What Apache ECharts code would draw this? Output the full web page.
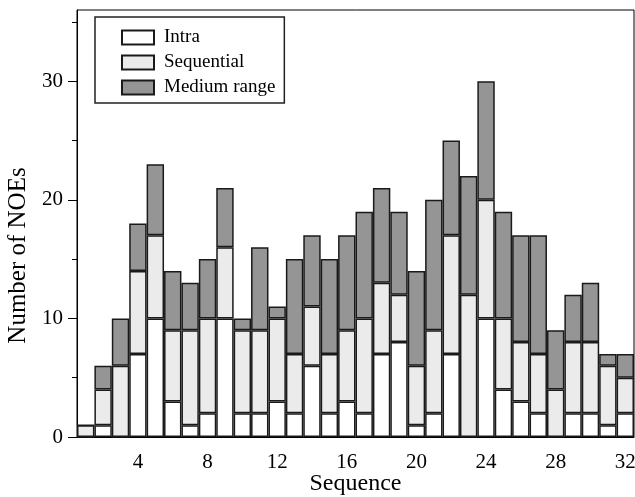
<!DOCTYPE html>
<html>
<head>
<meta charset="utf-8">
<script src="https://cdn.jsdelivr.net/npm/echarts@6/dist/echarts.min.js"></script>
<style>
html, body { margin: 0; padding: 0; background: #fff; }
#chart { width: 635px; height: 497px; }
</style>
</head>
<body>
<div id="chart"></div>
<script>
// residue numbers 1..32
const residues = ['1','2','3','4','5','6','7','8','9','10','11','12','13','14','15','16',
    '17','18','19','20','21','22','23','24','25','26','27','28','29','30','31','32'];
const intra      = [0, 1, 0, 7, 10, 3, 1, 2, 10, 2, 2, 3, 2, 6, 2, 3, 2, 7, 8, 1, 2, 7, 0, 10, 4, 3, 2, 0, 2, 2, 1, 2];
const sequential = [1, 3, 6, 7, 7, 6, 8, 8, 6, 7, 7, 7, 5, 5, 5, 6, 8, 6, 4, 5, 7, 10, 12, 10, 6, 5, 5, 4, 6, 6, 5, 3];
const medium     = [0, 2, 4, 4, 6, 5, 4, 5, 5, 1, 7, 1, 8, 6, 8, 8, 9, 8, 7, 8, 11, 8, 10, 10, 9, 9, 10, 5, 4, 5, 1, 2];
const yLabelTicks = [0, 10, 20, 30];
const yMinorTicks = [5, 15, 25, 35];

const fontFamily = '"Liberation Serif", "DejaVu Serif", serif';
const chart = echarts.init(document.getElementById('chart'));

const makeSeries = function (name, data, color) {
    return {
        name: name,
        type: 'bar',
        stack: 'noe',
        data: data,
        barCategoryGap: 0,
        itemStyle: { color: color, borderColor: '#1a1a1a', borderWidth: 1.5 },
        emphasis: { disabled: true }
    };
};
// major ticks / labels every 4 residues, minor ticks in between
const isMajor = function (idx) { return (idx + 1) % 4 === 0; };
const isMinor = function (idx) { return (idx + 1) % 4 === 2; };

const option = {
    animation: false,
    textStyle: { fontFamily: fontFamily, color: '#000' },
    grid: {
        left: 77, right: 1, top: 10, bottom: 60,
        outerBoundsMode: 'none',
        show: true, borderColor: '#000', borderWidth: 1
    },
    legend: {
        orient: 'vertical',
        left: 95, top: 17,
        icon: 'rect',
        itemWidth: 32, itemHeight: 14, itemGap: 6,
        padding: [11, 9, 6, 26],
        borderColor: '#222', borderWidth: 1.5,
        textStyle: { fontFamily: fontFamily, fontSize: 19, color: '#000', padding: [0, 0, 0, 5] },
        data: ['Intra', 'Sequential', 'Medium range']
    },
    xAxis: [{
        type: 'category',
        data: residues,
        name: 'Sequence',
        nameLocation: 'middle',
        nameGap: 35,
        nameMoveOverlap: false,
        nameTextStyle: { fontFamily: fontFamily, fontSize: 24, color: '#000' },
        axisLine: { lineStyle: { color: '#000', width: 1 } },
        axisTick: {
            alignWithLabel: true, length: 9,
            lineStyle: { color: '#000' },
            interval: isMajor
        },
        axisLabel: {
            fontFamily: fontFamily, fontSize: 21, color: '#000', margin: 15,
            interval: isMajor
        }
    }, {
        type: 'category',
        data: residues,
        position: 'bottom',
        axisLine: { show: false },
        axisTick: {
            alignWithLabel: true, length: 5,
            lineStyle: { color: '#000' },
            interval: isMinor
        },
        axisLabel: { show: false }
    }],
    yAxis: [{
        type: 'value',
        min: 0, max: 36,
        name: 'Number of NOEs',
        nameLocation: 'middle',
        nameGap: 46,
        nameRotate: 90,
        nameMoveOverlap: false,
        nameTextStyle: { fontFamily: fontFamily, fontSize: 25, color: '#000', padding: [0, 0, 0, -64] },
        splitLine: { show: false },
        axisLine: { show: true, lineStyle: { color: '#000', width: 1 } },
        axisTick: { show: true, length: 9, lineStyle: { color: '#000' }, customValues: yLabelTicks },
        axisLabel: { fontFamily: fontFamily, fontSize: 21, color: '#000', margin: 14, customValues: yLabelTicks }
    }, {
        type: 'value',
        min: 0, max: 36,
        position: 'left',
        splitLine: { show: false },
        axisLine: { show: false },
        axisTick: { show: true, length: 5, lineStyle: { color: '#000' }, customValues: yMinorTicks },
        axisLabel: { show: false }
    }],
    series: [
        makeSeries('Intra', intra, '#ffffff'),
        makeSeries('Sequential', sequential, '#ebebeb'),
        makeSeries('Medium range', medium, '#959595')
    ]
};
chart.setOption(option);
</script>
</body>
</html>
